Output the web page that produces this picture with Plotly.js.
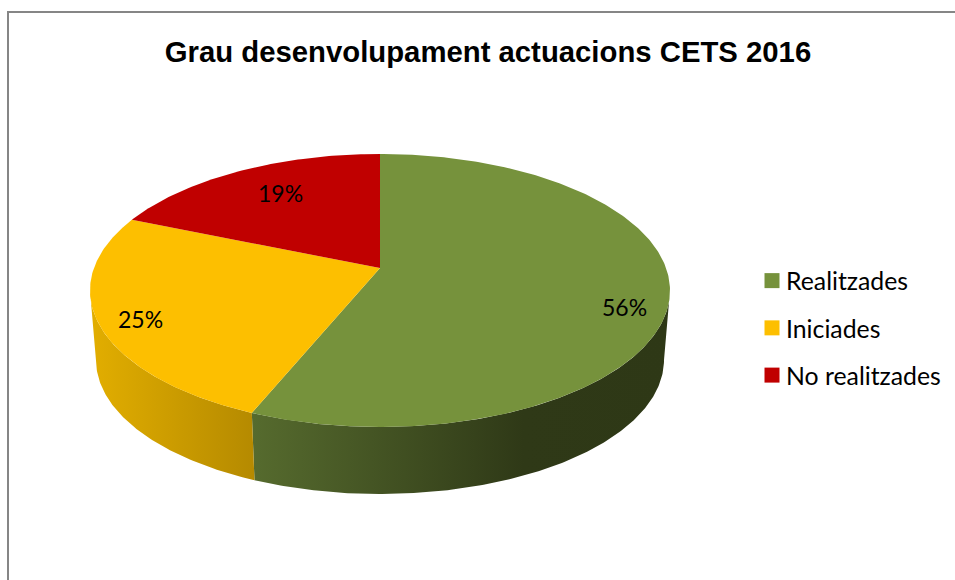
<!DOCTYPE html>
<html>
<head>
<meta charset="utf-8">
<script src="https://cdn.plot.ly/plotly-3.0.1.min.js"></script>
<style>html,body{margin:0;padding:0;background:#fff}#chart{width:955px;height:580px}</style>
</head>
<body>
<div id="chart"></div>
<script>
const categories = ['Realitzades', 'Iniciades', 'No realitzades'];
const values = [56.2, 25.1, 18.7];
const sliceColors = ['#76923c', '#fdbf00', '#c00000'];

const titleText = 'Grau desenvolupament actuacions CETS 2016';
const labelPixelX = [624, 140, 280];
const labelPixelY = [307, 319, 193];

// Perspective pie geometry, in axis units (axes are mapped 1:1 to the page)
const top_ = {cx: 380, cy: 290.5, rx: 290, ry: 136.5};
const bot_ = {cx: 380, cy: 360, rx: 284, ry: 134};
const apex = {x: 380, y: 268};
const tilt = (apex.y - top_.cy) / top_.ry;

// Value angle (clockwise from 12 o'clock) -> angle on the drawn ellipse, with perspective
function project(theta) {
  const u = Math.sin(theta), v = -Math.cos(theta);
  const d = 1 + tilt * v;
  const vp = (v + tilt) / d;
  const up = u * Math.sqrt(1 - tilt * tilt) / d;
  let a = Math.atan2(up, -vp);
  if (a < 0) a += 2 * Math.PI;
  return a;
}
const pt = (e, a) => [e.cx + e.rx * Math.sin(a), e.cy - e.ry * Math.cos(a)];
function arc(e, a0, a1) {
  const n = Math.max(2, Math.ceil(Math.abs(a1 - a0) * 90));
  const out = [];
  for (let i = 0; i <= n; i++) out.push(pt(e, a0 + (a1 - a0) * i / n));
  return out;
}

const total = values.reduce((a, b) => a + b, 0);
let acc = 0;
const bounds = values.map(v => {
  const s = acc; acc += v;
  const a0 = s === 0 ? 0 : project(2 * Math.PI * s / total);
  const a1 = acc >= total - 1e-9 ? 2 * Math.PI : project(2 * Math.PI * acc / total);
  return [a0, a1];
});

const poly = (pts, extra) => Object.assign({
  x: pts.map(p => p[0]), y: pts.map(p => p[1]),
  mode: 'lines', line: {width: 0}, fill: 'toself',
  hoverinfo: 'skip', showlegend: false, type: 'scatter'
}, extra);

function wall(i, stops) {
  const a0 = Math.max(bounds[i][0], Math.PI / 2);
  const a1 = Math.min(bounds[i][1], 3 * Math.PI / 2);
  const pts = arc(top_, a0, a1).concat(arc(bot_, a1, a0));
  return poly(pts, {fillcolor: stops[0][1], fillgradient: {type: 'horizontal', colorscale: stops}});
}

const traces = [
  wall(0, [[0, '#566b2e'], [0.65, '#2f3917'], [1, '#2e3816']]),
  wall(1, [[0, '#e2ae00'], [1, '#b58a00']])
];

values.forEach((v, i) => {
  const pts = [[apex.x, apex.y]].concat(arc(top_, bounds[i][0], bounds[i][1]));
  pts.push([apex.x, apex.y]);
  traces.push(poly(pts, {fillcolor: sliceColors[i], name: categories[i]}));
});

categories.forEach((c, i) => traces.push({
  type: 'scatter', mode: 'markers', x: [null], y: [null], name: c, legendgroup: c,
  marker: {symbol: 'square', size: 15, color: sliceColors[i]}, hoverinfo: 'skip'
}));

const layout = {
  width: 955, height: 580,
  margin: {l: 0, r: 0, t: 0, b: 0},
  paper_bgcolor: '#fff', plot_bgcolor: '#fff',
  xaxis: {range: [0, 955], visible: false, fixedrange: true},
  yaxis: {range: [580, 0], visible: false, fixedrange: true},
  title: {
    text: '<b>' + titleText + '</b>',
    x: 488 / 955, xanchor: 'center', xref: 'paper',
    y: 1 - 52 / 580, yanchor: 'middle', yref: 'container',
    font: {family: '"Liberation Sans", Arial, sans-serif', size: 29.3, color: '#000'}
  },
  legend: {
    x: 746 / 955, y: 1 - 258 / 580, xanchor: 'left', yanchor: 'top',
    font: {family: 'Lato, sans-serif', size: 24.8, color: '#000'},
    tracegroupgap: 12, itemclick: false, itemdoubleclick: false,
    bgcolor: 'rgba(0,0,0,0)'
  },
  showlegend: true,
  shapes: [
    {type: 'line', xref: 'x', yref: 'y', x0: 7, x1: 955, y0: 12, y1: 12, line: {color: '#868686', width: 2}},
    {type: 'line', xref: 'x', yref: 'y', x0: 8, x1: 8, y0: 11, y1: 580, line: {color: '#868686', width: 2}}
  ],
  annotations: values.map((v, i) => ({
    text: Math.round(v) + '%', x: labelPixelX[i], y: labelPixelY[i], xref: 'x', yref: 'y',
    showarrow: false, xanchor: 'center', yanchor: 'middle',
    font: {family: 'Lato, sans-serif', size: 23, color: '#000'}
  }))
};

Plotly.newPlot('chart', traces, layout, {displayModeBar: false}).then(() => {
  document.querySelectorAll('#chart .legend .legendsymbols').forEach(g => g.setAttribute('transform', 'translate(6,0)'));
});
</script>
</body>
</html>
